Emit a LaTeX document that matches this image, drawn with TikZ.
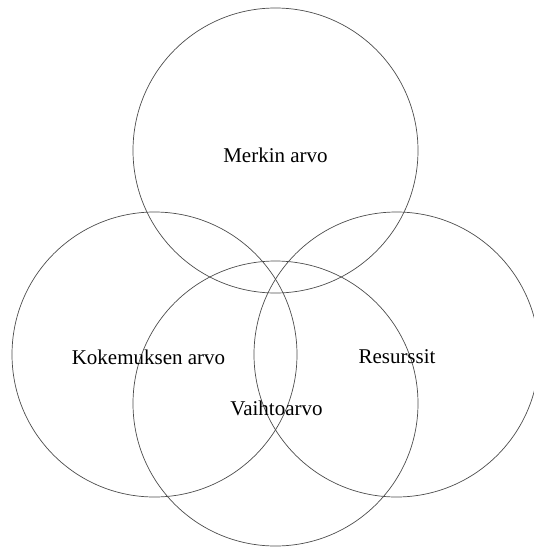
\documentclass[tikz,border=0pt]{standalone}
\usepackage{fontspec}
\setmainfont{Liberation Serif}
\usepackage{tikz}

\begin{document}
\begin{tikzpicture}[x=1pt,y=-1pt]
\tikzset{ring/.style={draw=black!70,line width=0.7pt,circle,minimum size=285pt,inner sep=0pt},
  lbl/.style={font=\fontsize{21}{24}\selectfont,inner sep=0pt}}
\useasboundingbox (0,0) rectangle (533,549);
\node[ring] (merkki) at (275.5,150.5) {};
\node[ring] (kokemus) at (154.5,354.5) {};
\node[ring] (resurssi) at (396.5,354.5) {};
\node[ring] (vaihto) at (275.5,403.5) {};
\node[lbl] (tmerkki) at (275.5,155) {Merkin arvo};
\node[lbl] (tkokemus) at (148.5,357) {Kokemuksen arvo};
\node[lbl] (tresurssi) at (397,357) {Resurssit};
\node[lbl] (tvaihto) at (276.5,408) {Vaihtoarvo};
\end{tikzpicture}
\end{document}
